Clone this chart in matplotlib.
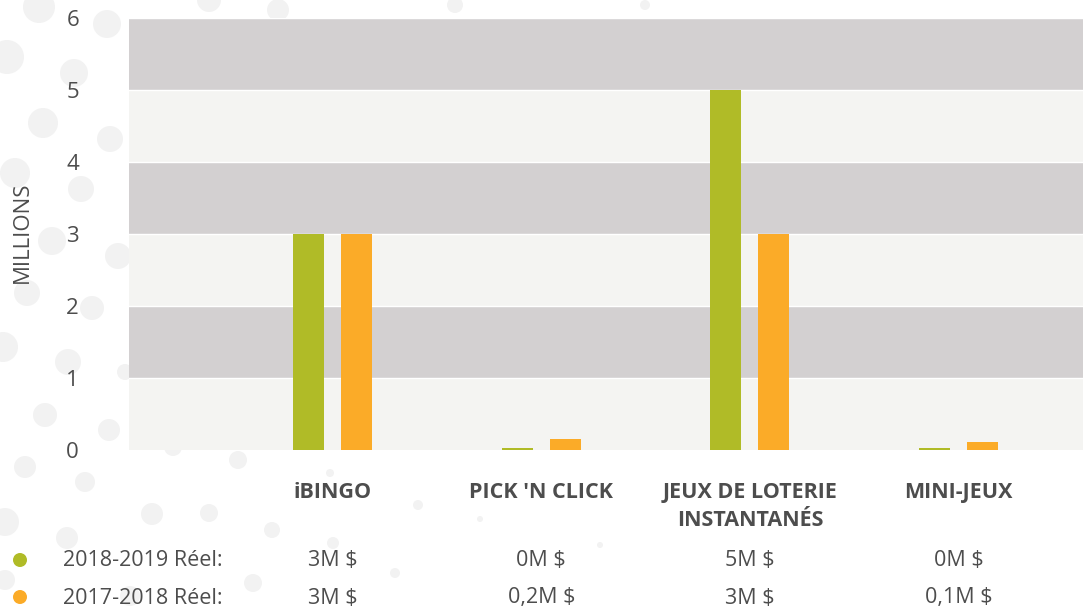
import numpy as np
import matplotlib.pyplot as plt
from matplotlib.patches import Circle
from matplotlib.transforms import blended_transform_factory

plt.rcParams['font.family'] = ['Open Sans', 'DejaVu Sans']

categories = ['iBINGO', "PICK 'N CLICK", 'JEUX DE LOTERIE\nINSTANTANÉS', 'MINI-JEUX']
series_names = ['2018-2019 Réel:', '2017-2018 Réel:']
vals_1819 = [3.0, 0.03, 5.0, 0.03]
vals_1718 = [3.0, 0.15, 3.0, 0.11]
labels_1819 = ['3M $', '0M $', '5M $', '0M $']
labels_1718 = ['3M $', '0,2M $', '3M $', '0,1M $']
colors = ['#b0bb27', '#fbab28']
yticks = [0, 1, 2, 3, 4, 5, 6]

text_col = '#4d4d4d'
W, H = 1083, 610

fig = plt.figure(figsize=(W / 100, H / 100), dpi=100)

# decorative background dots (pixel coords: x, y, r)
bg = fig.add_axes([0, 0, 1, 1], zorder=0)
bg.set_xlim(0, W)
bg.set_ylim(H, 0)
bg.axis('off')
dots = [(39, 7, 16), (107, 24, 14), (7, 57, 17), (74, 73, 14), (43, 123, 15),
        (110, 139, 13), (15, 173, 15), (81, 189, 13), (52, 241, 14), (118, 256, 13),
        (27, 293, 13), (92, 308, 12), (3, 347, 15), (68, 362, 13), (45, 415, 12),
        (109, 430, 11), (25, 467, 11), (238, 460, 9), (173, 447, 9), (209, 0, 12),
        (278, 10, 11), (455, 5, 8), (645, 5, 5), (85, 482, 10), (5, 522, 14),
        (67, 538, 11), (152, 514, 11), (209, 513, 9), (272, 530, 8), (333, 543, 6),
        (253, 583, 9), (395, 573, 5), (130, 596, 10), (5, 580, 10), (418, 505, 5),
        (480, 519, 3), (125, 372, 8), (330, 473, 4), (600, 545, 3)]
for x, y, r in dots:
    bg.add_patch(Circle((x, y), r, color='#f2f2f2', lw=0))

ax = fig.add_axes([129 / W, (H - 450) / H, (W - 129) / W, 432 / H], zorder=1)
ax.patch.set_alpha(0)

# alternating bands
for i in range(len(yticks) - 1):
    c = '#f4f4f2' if i % 2 == 0 else '#d3d0d1'
    ax.axhspan(yticks[i], yticks[i + 1], color=c, lw=0, zorder=0)
    ax.axhline(yticks[i + 1], color='white', lw=1, zorder=0.5)

x = np.arange(1, len(categories) + 1)
bw = 0.148
off = 0.115
ax.bar(x - off, vals_1819, bw, color=colors[0], zorder=2)
ax.bar(x + off, vals_1718, bw, color=colors[1], zorder=2)

ax.set_xlim(0.025, 4.596)
ax.set_ylim(0, 6)
ax.set_yticks(yticks)
ax.set_yticklabels([str(t) for t in yticks], fontsize=16, color=text_col)
ax.tick_params(axis='y', length=0, pad=36)
ax.tick_params(axis='x', length=0, labelbottom=False)
for s in ax.spines.values():
    s.set_visible(False)

fig.text(22 / W, 1 - 232 / H, 'MILLIONS', rotation=90, ha='center', va='center',
         fontsize=16, color=text_col)

# table under the chart
tr = blended_transform_factory(ax.transData, fig.transFigure)
for xi, cat in zip(x, categories):
    ax.text(xi, 1 - 482 / H, cat, transform=tr, ha='center', va='top',
            fontsize=15.5, fontweight='bold', color=text_col, linespacing=1.45)

rows_y = [561, 598]
for row, (name, col, labs) in enumerate(zip(series_names, colors, [labels_1819, labels_1718])):
    yy = 1 - rows_y[row] / H
    bg.add_patch(Circle((20, rows_y[row] - 1), 7, color=col, lw=0))
    fig.text(63 / W, yy, name, ha='left', va='center', fontsize=15.5, color=text_col)
    for xi, lab in zip(x, labs):
        ax.text(xi, yy, lab, transform=tr, ha='center', va='center',
                fontsize=15.5, color=text_col)

fig.savefig('out.png', dpi=100, facecolor='white')
